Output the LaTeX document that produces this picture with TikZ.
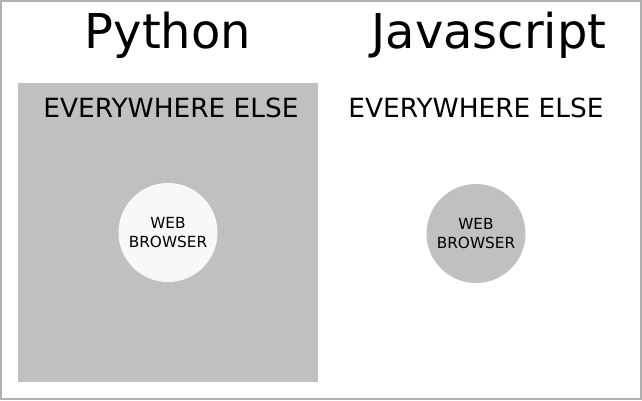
\documentclass[tikz,border=0pt]{standalone}
\usepackage{fontspec}
\setmainfont{DejaVu Sans}
\definecolor{frame}{HTML}{B0B0B0}
\definecolor{boxgray}{HTML}{C0C0C0}
\definecolor{light}{HTML}{F8F8F8}
\begin{document}
\begin{tikzpicture}[x=1pt,y=-1pt,
  title/.style={font=\fontsize{48}{52}\selectfont, inner sep=0pt},
  region/.style={font=\fontsize{26.4}{30}\selectfont, inner sep=0pt},
  browser/.style={circle, minimum size=99pt, inner sep=0pt, align=center, font=\fontsize{15.3}{19}\selectfont}]
\useasboundingbox (0,0) rectangle (642,400);
\draw[frame, line width=2pt] (1,1) rectangle (641,399);
\node[title] (py) at (168,35) {Python};
\node[title] (js) at (489,35) {Javascript};
\fill[boxgray] (18,83) rectangle (318,382);
\node[region] (ee1) at (171,107.5) {EVERYWHERE ELSE};
\node[region] (ee2) at (476,107.5) {EVERYWHERE ELSE};
\node[browser, fill=light] (wb1) at (168,232.5) {WEB\\BROWSER};
\node[browser, fill=boxgray] (wb2) at (476,233.5) {WEB\\BROWSER};
\end{tikzpicture}
\end{document}
